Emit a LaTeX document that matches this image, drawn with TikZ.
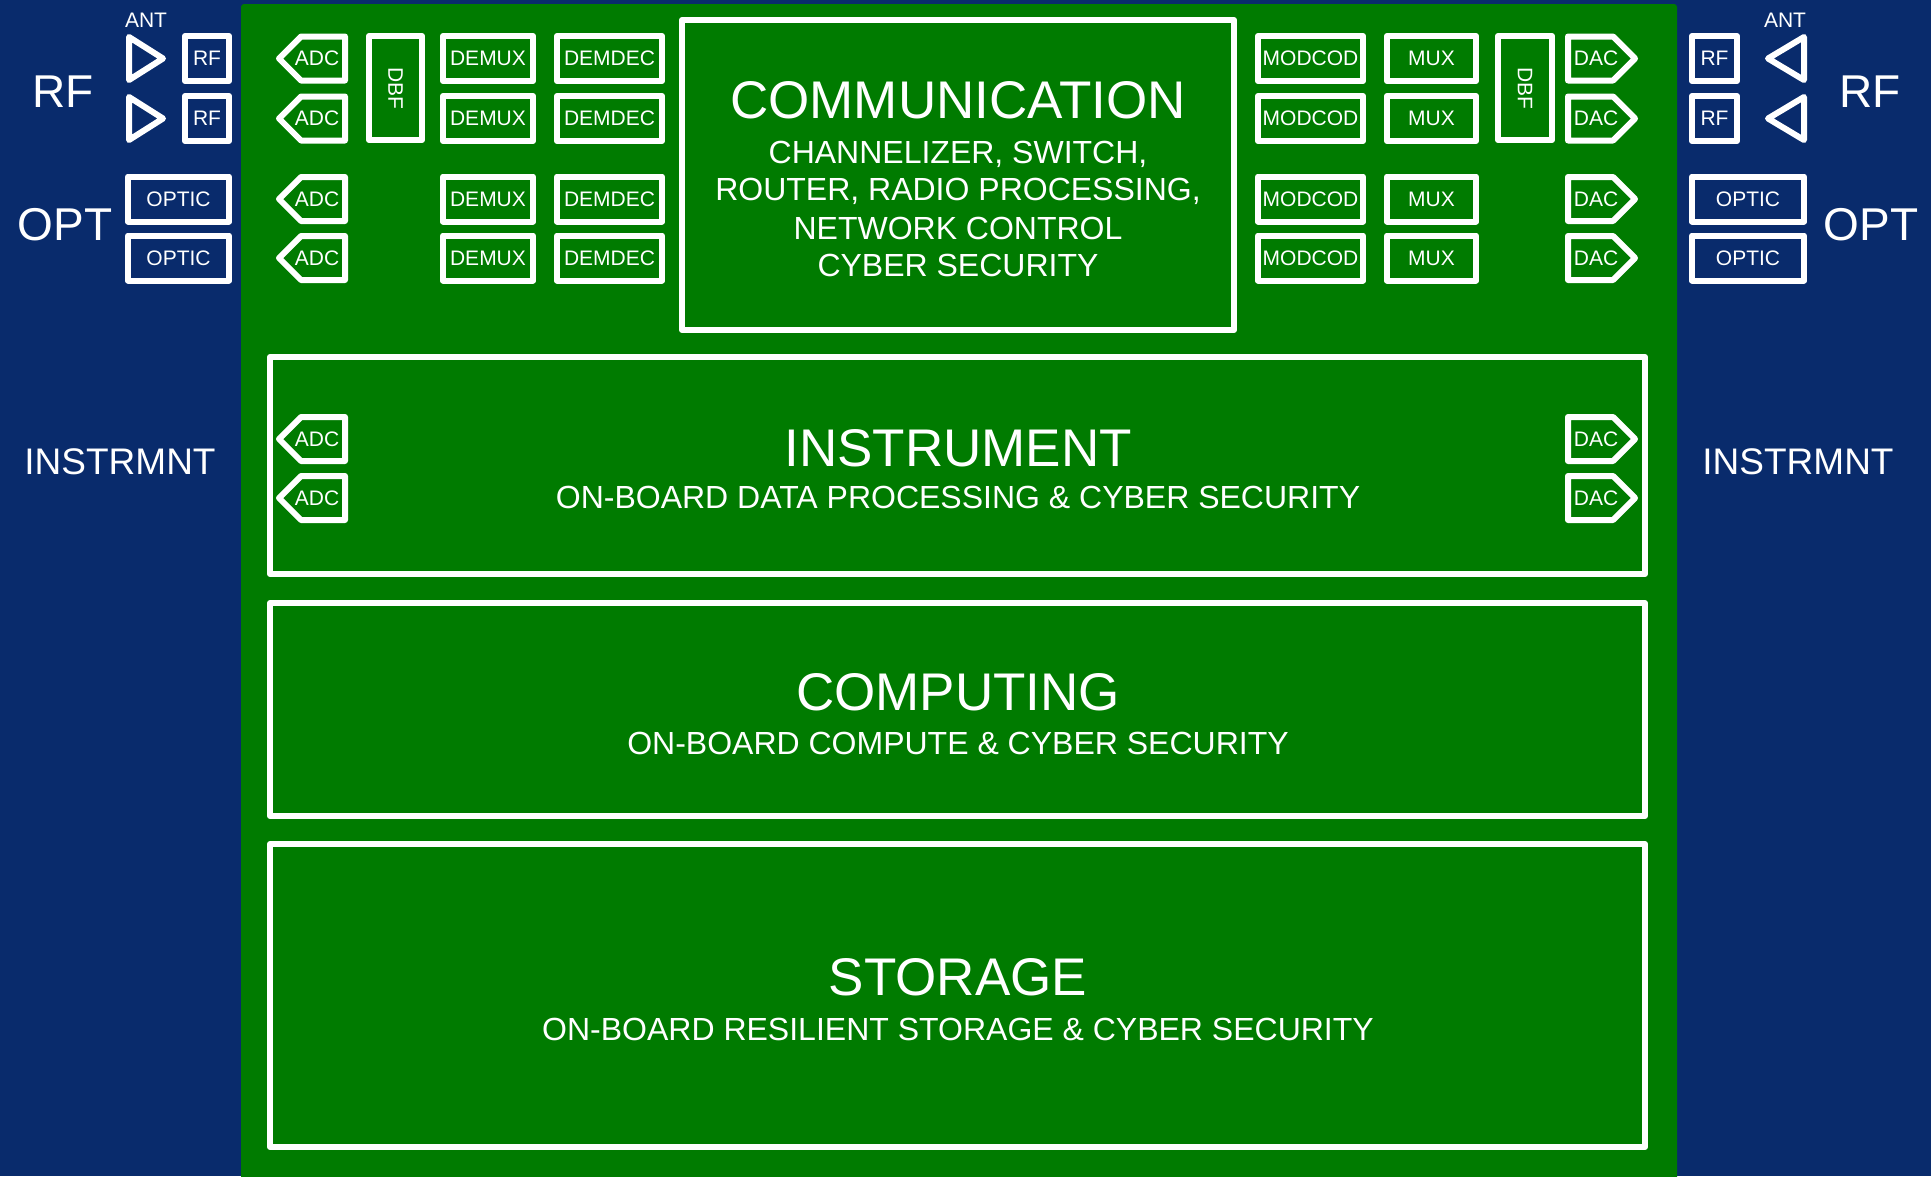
\documentclass[tikz,border=0pt]{standalone}
\usepackage{fontspec}
\setmainfont{Liberation Sans}
\definecolor{bgblue}{RGB}{9,43,108}
\definecolor{bggreen}{RGB}{0,123,0}
\newcommand\fsz[1]{\fontsize{#1}{#1}\selectfont}
\tikzset{
  wline/.style={draw=white, line width=6pt, line join=round},
  lbl/.style={text=white, inner sep=0pt, font=\fsz{21}},
  sbox/.style={wline, lbl, minimum height=45pt},
  bigtxt/.style={text=white, inner sep=0pt, font=\fsz{46}, anchor=base},
  sidetxt/.style={text=white, inner sep=0pt, font=\fsz{37}, anchor=base},
  titletxt/.style={text=white, inner sep=0pt, font=\fsz{53}, anchor=base},
  subtxt/.style={text=white, inner sep=0pt, font=\fsz{32}, anchor=base},
}
% left-pointing pentagon: name, tip x, centre y
\newcommand\adcpent[3]{%
  \draw[wline] (#2,#3) -- ++(22,-22) -- ++(44,0) -- ++(0,44) -- ++(-44,0) -- cycle;
  \node[lbl] (#1) at (#2+38,#3) {ADC};}
% right-pointing pentagon: name, left x, centre y
\newcommand\dacpent[3]{%
  \draw[wline] (#2,#3) ++(0,-22) -- ++(45,0) -- ++(22,22) -- ++(-22,22) -- ++(-45,0) -- cycle;
  \node[lbl] (#1) at (#2+28,#3) {DAC};}
\begin{document}
\begin{tikzpicture}[x=1pt,y=-1pt]
\useasboundingbox (0,0) rectangle (1931,1176);
\fill[bgblue] (0,0) rectangle (1931,1176);
\fill[bggreen, rounded corners=3pt] (241,4) rectangle (1677,1190);

% ---------- left side (blue) ----------
\node[lbl] (antL) at (146,27) [anchor=base] {ANT};
\draw[wline] (129,37) -- (163,58.5) -- (129,80) -- cycle;
\draw[wline] (129,97) -- (163,118.5) -- (129,140) -- cycle;
\node[sbox, minimum width=44pt] (rfL1) at (207,58.5) {RF};
\node[sbox, minimum width=44pt] (rfL2) at (207,118.5) {RF};
\node[bigtxt] (rfbigL) at (63,107) {RF};
\node[sbox, minimum width=101pt] (opL1) at (178.5,199) {OPTIC};
\node[sbox, minimum width=101pt] (opL2) at (178.5,258) {OPTIC};
\node[bigtxt] (optbigL) at (65,240) {OPT};
\node[sidetxt] (instL) at (120,474) {INSTRMNT};

% ---------- right side (blue) ----------
\node[lbl] (antR) at (1785,27) [anchor=base] {ANT};
\draw[wline] (1804,37) -- (1768,58.5) -- (1804,80) -- cycle;
\draw[wline] (1804,97) -- (1768,118.5) -- (1804,140) -- cycle;
\node[sbox, minimum width=45pt] (rfR1) at (1714.5,58.5) {RF};
\node[sbox, minimum width=45pt] (rfR2) at (1714.5,118.5) {RF};
\node[bigtxt] (rfbigR) at (1870,107) {RF};
\node[sbox, minimum width=112pt] (opR1) at (1748,199) {OPTIC};
\node[sbox, minimum width=112pt] (opR2) at (1748,258) {OPTIC};
\node[bigtxt] (optbigR) at (1871,240) {OPT};
\node[sidetxt] (instR) at (1798,474) {INSTRMNT};

% ---------- communication receive chain ----------
\adcpent{adc1}{279}{58.5}
\adcpent{adc2}{279}{118.5}
\adcpent{adc3}{279}{199}
\adcpent{adc4}{279}{258}
\node[wline, lbl, rotate=-90, minimum width=104pt, minimum height=53pt] (dbfL) at (395.5,88) {DBF};
\foreach \r/\y in {1/58.5,2/118.5,3/199,4/258}{
  \node[sbox, minimum width=90pt] (demux\r) at (488,\y) {DEMUX};
  \node[sbox, minimum width=105pt] (demdec\r) at (609.5,\y) {DEMDEC};
}

% ---------- communication transmit chain ----------
\foreach \r/\y in {1/58.5,2/118.5,3/199,4/258}{
  \node[sbox, minimum width=105pt] (modcod\r) at (1310.5,\y) {MODCOD};
  \node[sbox, minimum width=89pt] (mux\r) at (1431.5,\y) {MUX};
}
\node[wline, lbl, rotate=-90, minimum width=104pt, minimum height=54pt] (dbfR) at (1525,88) {DBF};
\dacpent{dac1}{1568}{58.5}
\dacpent{dac2}{1568}{118.5}
\dacpent{dac3}{1568}{199}
\dacpent{dac4}{1568}{258}

% ---------- communication block ----------
\node[wline, minimum width=552pt, minimum height=310pt] (comm) at (958,175) {};
\node[titletxt] (commT) at (958,118) {COMMUNICATION};
\node[subtxt] (commA) at (958,163.3) {CHANNELIZER, SWITCH,};
\node[subtxt] (commB) at (958,200.5) {ROUTER, RADIO PROCESSING,};
\node[subtxt] (commC) at (958,239) {NETWORK CONTROL};
\node[subtxt] (commD) at (958,276.7) {CYBER SECURITY};

% ---------- instrument block ----------
\node[wline, minimum width=1375pt, minimum height=217pt] (instr) at (957.5,465.5) {};
\node[titletxt] (instrT) at (958,466) {INSTRUMENT};
\node[subtxt] (instrS) at (958,508) {ON-BOARD DATA PROCESSING \& CYBER SECURITY};
\adcpent{adc5}{279}{439}
\adcpent{adc6}{279}{498}
\dacpent{dac5}{1568}{439}
\dacpent{dac6}{1568}{498}

% ---------- computing block ----------
\node[wline, minimum width=1375pt, minimum height=213pt] (comp) at (957.5,709.5) {};
\node[titletxt] (compT) at (958,710) {COMPUTING};
\node[subtxt] (compS) at (958,754) {ON-BOARD COMPUTE \& CYBER SECURITY};

% ---------- storage block ----------
\node[wline, minimum width=1375pt, minimum height=303pt] (stor) at (957.5,995.5) {};
\node[titletxt] (storT) at (958,995) {STORAGE};
\node[subtxt] (storS) at (958,1040) {ON-BOARD RESILIENT STORAGE \& CYBER SECURITY};
\end{tikzpicture}
\end{document}
